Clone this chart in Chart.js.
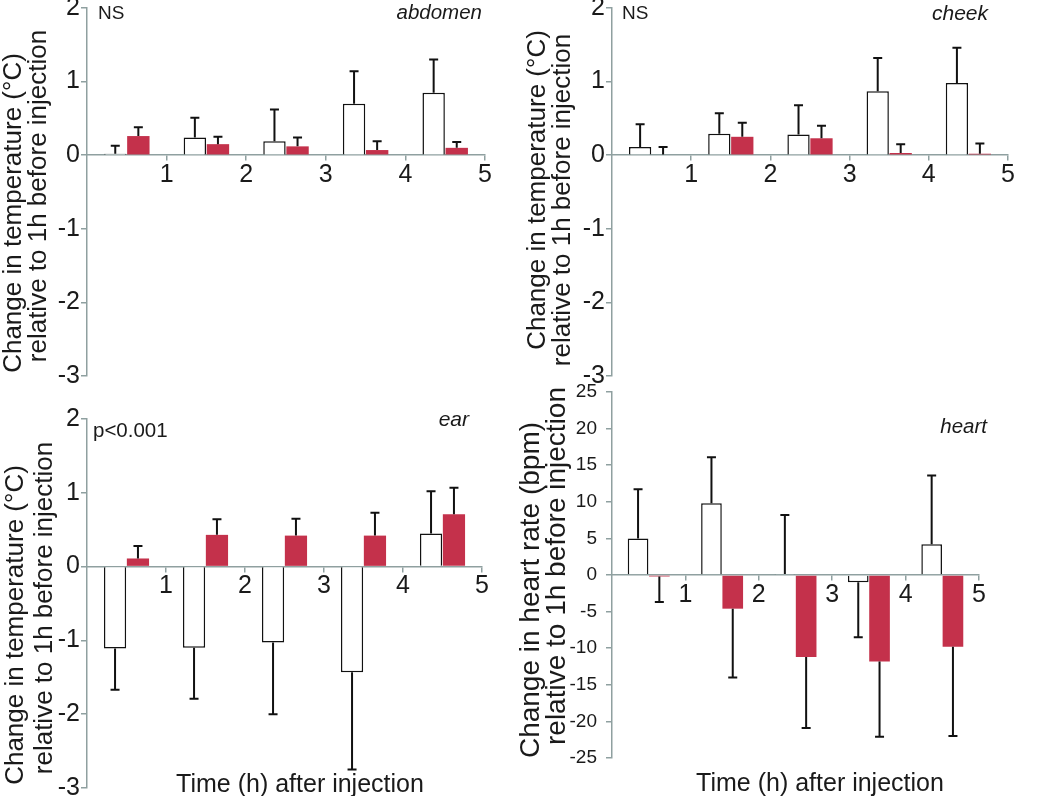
<!DOCTYPE html>
<html>
<head>
<meta charset="utf-8">
<script src="https://cdn.jsdelivr.net/npm/chart.js@4/dist/chart.umd.min.js"></script>
<style>
body { margin: 0; background: #fff; }
#page { position: relative; width: 1050px; height: 796px; overflow: hidden; font-family: "Liberation Sans", Arial, sans-serif; color: #1a1a1a; }
canvas { position: absolute; }
.txt { position: absolute; white-space: nowrap; line-height: 1; transform: translate(0, -50%); }
.right { transform: translate(-100%, -50%); }
.mid { transform: translate(-50%, -50%); }
.rot { transform: translate(-50%, -50%) rotate(-90deg); }
.it { font-style: italic; }
</style>
</head>
<body>
<div id="page">
  <canvas id="abdomen"></canvas>
  <canvas id="cheek"></canvas>
  <canvas id="ear"></canvas>
  <canvas id="heart"></canvas>

  <div class="txt rot" style="left:12px;top:213px;font-size:26px">Change in temperature (°C)</div>
  <div class="txt rot" style="left:37px;top:196px;font-size:26px">relative to 1h before injection</div>
  <div class="txt rot" style="left:536px;top:190px;font-size:26px">Change in temperature (°C)</div>
  <div class="txt rot" style="left:561px;top:200px;font-size:26px">relative to 1h before injection</div>
  <div class="txt rot" style="left:14px;top:625px;font-size:26px">Change in temperature (°C)</div>
  <div class="txt rot" style="left:43px;top:608px;font-size:26px">relative to 1h before injection</div>
  <div class="txt rot" style="left:530px;top:590px;font-size:28px">Change in heart rate (bpm)</div>
  <div class="txt rot" style="left:556px;top:566px;font-size:28px">relative to 1h before injection</div>

  <div class="txt mid" style="left:300px;top:783px;font-size:25px">Time (h) after injection</div>
  <div class="txt mid" style="left:820px;top:782px;font-size:25px">Time (h) after injection</div>

  <div class="txt" style="left:98px;top:12px;font-size:19px">NS</div>
  <div class="txt right it" style="left:482px;top:12px;font-size:20.5px">abdomen</div>
  <div class="txt" style="left:622px;top:12px;font-size:19px">NS</div>
  <div class="txt right it" style="left:988px;top:12px;font-size:21px">cheek</div>
  <div class="txt" style="left:93px;top:430px;font-size:20.5px">p&lt;0.001</div>
  <div class="txt right it" style="left:469px;top:418px;font-size:21px">ear</div>
  <div class="txt right it" style="left:987px;top:426px;font-size:20.5px">heart</div>
</div>
<script>
// time intervals (bar centres) and axis ticks
var hours = [0.5, 1.5, 2.5, 3.5, 4.5];
var xTicks = [1, 2, 3, 4, 5];

// abdomen
var abdomenWhite = [0.02, 0.24, 0.19, 0.70, 0.85];
var abdomenWhiteErr = [0.11, 0.27, 0.43, 0.44, 0.45];
var abdomenRed = [0.26, 0.15, 0.12, 0.07, 0.10];
var abdomenRedErr = [0.12, 0.10, 0.12, 0.12, 0.08];

// cheek
var cheekWhite = [0.11, 0.29, 0.28, 0.87, 0.98];
var cheekWhiteErr = [0.31, 0.28, 0.40, 0.45, 0.48];
var cheekRed = [0.01, 0.25, 0.23, 0.03, 0.02];
var cheekRedErr = [0.10, 0.19, 0.17, 0.12, 0.14];

// ear
var earWhite = [-1.11, -1.10, -1.03, -1.43, 0.45];
var earWhiteErr = [0.56, 0.69, 0.97, 1.32, 0.57];
var earRed = [0.11, 0.43, 0.42, 0.42, 0.71];
var earRedErr = [0.17, 0.21, 0.23, 0.31, 0.36];

// heart rate
var heartWhite = [5.0, 9.8, 0.15, -1.0, 4.2];
var heartWhiteErr = [6.7, 6.3, 8.05, 7.5, 9.4];
var heartRed = [-0.2, -4.6, -11.2, -11.8, -9.8];
var heartRedErr = [3.5, 9.4, 9.7, 10.3, 12.2];

var axisColor = '#8fa0a0';
var red = '#c4314b';
var yW = 80, pad = 30;

// one-sided error bars, pointing away from zero
var errorBars = {
    id: 'errorBars',
    afterDatasetsDraw: function (chart) {
        var ctx = chart.ctx;
        var y = chart.scales.y;
        chart.data.datasets.forEach(function (ds, i) {
            chart.getDatasetMeta(i).data.forEach(function (bar, j) {
                var v = ds.data[j].y;
                var e = ds.errors[j];
                var end = v >= 0 ? v + e : v - e;
                var y0 = y.getPixelForValue(v);
                var y1 = y.getPixelForValue(end);
                ctx.save();
                ctx.strokeStyle = '#111';
                ctx.lineWidth = 2;
                ctx.beginPath();
                ctx.moveTo(bar.x, y0);
                ctx.lineTo(bar.x, y1);
                ctx.moveTo(bar.x - 4.5, y1);
                ctx.lineTo(bar.x + 4.5, y1);
                ctx.stroke();
                ctx.restore();
            });
        });
    }
};

function points(vals) {
    return hours.map(function (h, i) { return { x: h, y: vals[i] }; });
}

function makePanel(id, area, yMin, yMax, yStep, yFont, yPad, white, whiteErr, redVals, redErr) {
    var cv = document.getElementById(id);
    var w = area.right - area.left + yW + pad;
    var h = area.bottom - area.top + 2 * pad;
    cv.width = w;
    cv.height = h;
    cv.style.left = (area.left - yW) + 'px';
    cv.style.top = (area.top - pad) + 'px';
    cv.style.width = w + 'px';
    cv.style.height = h + 'px';

    new Chart(cv.getContext('2d'), {
        type: 'bar',
        data: {
            datasets: [{
                data: points(white),
                errors: whiteErr,
                backgroundColor: '#fff',
                borderColor: '#111',
                borderWidth: 1.5,
                categoryPercentage: 0.58,
                barPercentage: 0.97
            }, {
                data: points(redVals),
                errors: redErr,
                backgroundColor: red,
                borderWidth: 0,
                categoryPercentage: 0.58,
                barPercentage: 0.97
            }]
        },
        options: {
            responsive: false,
            animation: false,
            layout: { padding: { left: 0, top: pad, right: pad, bottom: pad } },
            plugins: { legend: { display: false }, tooltip: { enabled: false } },
            scales: {
                x: {
                    type: 'linear',
                    min: 0,
                    max: 5,
                    offset: false,
                    position: { y: 0 },
                    afterBuildTicks: function (s) {
                        s.ticks = xTicks.map(function (v) { return { value: v }; });
                    },
                    afterFit: function (s) { s.height = 0; },
                    grid: { offset: false, drawOnChartArea: false, tickLength: 5, color: axisColor, lineWidth: 1.5 },
                    border: { color: axisColor, width: 1.5 },
                    ticks: {
                        padding: 0,
                        color: '#1a1a1a',
                        maxRotation: 0,
                        autoSkip: false,
                        font: { family: '"Liberation Sans", Arial, sans-serif', size: 25 },
                        callback: function (v) { return String(v); }
                    }
                },
                y: {
                    min: yMin,
                    max: yMax,
                    afterFit: function (s) { s.width = yW; },
                    grid: { drawOnChartArea: false, tickLength: 6, color: axisColor, lineWidth: 1.5 },
                    border: { color: axisColor, width: 1.5 },
                    ticks: {
                        stepSize: yStep,
                        padding: yPad,
                        color: '#1a1a1a',
                        font: { family: '"Liberation Sans", Arial, sans-serif', size: yFont }
                    }
                }
            }
        },
        plugins: [errorBars]
    });
}

makePanel('abdomen', { left: 87, right: 485, top: 8, bottom: 376 }, -3, 2, 1, 25, 1,
    abdomenWhite, abdomenWhiteErr, abdomenRed, abdomenRedErr);
makePanel('cheek', { left: 612, right: 1008, top: 8, bottom: 376 }, -3, 2, 1, 25, 1,
    cheekWhite, cheekWhiteErr, cheekRed, cheekRedErr);
makePanel('ear', { left: 87, right: 482, top: 419, bottom: 788 }, -3, 2, 1, 25, 1,
    earWhite, earWhiteErr, earRed, earRedErr);
makePanel('heart', { left: 612, right: 979, top: 392, bottom: 758 }, -25, 25, 5, 19, 9,
    heartWhite, heartWhiteErr, heartRed, heartRedErr);
</script>
</body>
</html>
